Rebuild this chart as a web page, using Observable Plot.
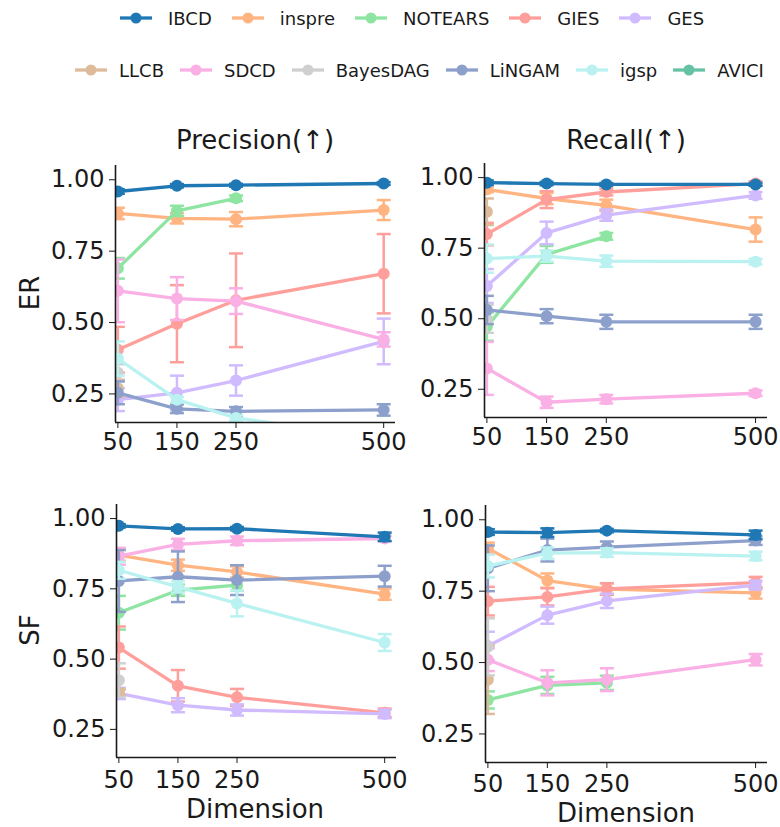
<!DOCTYPE html>
<html><head><meta charset="utf-8">
<script src="https://cdn.jsdelivr.net/npm/d3@7"></script>
<script src="https://cdn.jsdelivr.net/npm/@observablehq/plot@0.6"></script>
<style>
body{margin:0;background:#fff;font-family:"DejaVu Sans",sans-serif;}
#root{position:relative;width:780px;height:827px;overflow:hidden;background:#fff;}
.abs{position:absolute;white-space:nowrap;color:#1a1a1a;line-height:20px;}
.panel{position:absolute;}
.legrow{position:absolute;display:flex;align-items:center;font-size:18px;color:#1a1a1a;height:24px;}
.item{display:flex;align-items:center;}
</style></head><body><div id="root"></div>
<script>
// ---------- data ----------
const dims = [50, 150, 250, 500];
const methods = ["IBCD","inspre","NOTEARS","GIES","GES","LLCB","SDCD","BayesDAG","LiNGAM","igsp","AVICI"];
const colors = ["#1f77b4","#ffb482","#8de5a1","#ff9f9b","#d0bbff","#debb9b","#fab0e4","#cfcfcf","#8da0cb","#b9f2f0","#66c2a5"];
const yTicks = [0.25, 0.5, 0.75, 1.0];
const N = null;

// ER - Precision (mean per dim, error half-width per dim), rows follow `methods`
const erPrecMean = [
  [0.959,0.979,0.981,0.987],[0.882,0.865,0.862,0.894],[0.690,0.891,0.935,N],[0.405,0.496,0.578,0.671],
  [0.230,0.254,0.297,0.434],[0.270,N,N,N],[0.611,0.584,0.575,0.441],[0.324,N,N,N],
  [0.254,0.198,0.189,0.194],[0.374,0.230,0.166,0.094],[N,N,N,N]];
const erPrecErr = [
  [0.008,0.006,0.005,0.005],[0.02,0.018,0.025,0.035],[0.036,0.018,0.01,N],[0.08,0.135,0.164,0.139],
  [0.04,0.06,0.053,0.08],[0.03,N,N,N],[0.11,0.075,0.045,0.025],[0.03,N,N,N],
  [0.04,0.015,0.015,0.02],[0.06,0.01,0.01,0.01],[N,N,N,N]];
// ER - Recall
const erRecMean = [
  [0.982,0.979,0.976,0.976],[0.958,0.926,0.902,0.816],[0.472,0.728,0.792,N],[0.800,0.922,0.949,0.979],
  [0.616,0.804,0.867,0.937],[0.879,N,N,N],[0.324,0.204,0.215,0.236],[0.500,N,N,N],
  [0.531,0.509,0.489,0.489],[0.713,0.722,0.704,0.702],[N,N,N,N]];
const erRecErr = [
  [0.008,0.006,0.005,0.005],[0.01,0.02,0.02,0.043],[0.05,0.03,0.012,N],[0.04,0.03,0.012,0.008],
  [0.06,0.04,0.02,0.012],[0.047,N,N,N],[0.094,0.02,0.015,0.01],[0.05,N,N,N],
  [0.05,0.025,0.025,0.025],[0.05,0.02,0.02,0.01],[N,N,N,N]];
// SF - Precision
const sfPrecMean = [
  [0.974,0.963,0.964,0.935],[0.870,0.834,0.810,0.731],[0.665,0.745,0.763,N],[0.541,0.405,0.364,0.309],
  [0.378,0.336,0.319,0.305],[0.382,N,N,N],[0.866,0.908,0.921,0.929],[0.425,N,N,N],
  [0.778,0.793,0.781,0.795],[0.816,0.757,0.698,0.559],[N,N,N,N]];
const sfPrecErr = [
  [0.006,0.006,0.006,0.015],[0.02,0.02,0.02,0.02],[0.06,0.02,0.02,N],[0.075,0.056,0.03,0.015],
  [0.02,0.025,0.02,0.015],[0.01,N,N,N],[0.03,0.02,0.015,0.01],[0.06,N,N,N],
  [0.11,0.09,0.053,0.037],[0.03,0.02,0.046,0.03],[N,N,N,N]];
// SF - Recall
const sfRecMean = [
  [0.957,0.955,0.962,0.947],[0.900,0.787,0.757,0.744],[0.369,0.420,0.429,N],[0.715,0.730,0.758,0.780],
  [0.558,0.666,0.716,0.771],[0.440,N,N,N],[0.510,0.429,0.440,0.510],[0.555,N,N,N],
  [0.830,0.894,0.904,0.927],[0.838,0.883,0.885,0.873],[N,N,N,N]];
const sfRecErr = [
  [0.01,0.015,0.006,0.015],[0.02,0.025,0.02,0.02],[0.03,0.03,0.025,N],[0.05,0.03,0.02,0.02],
  [0.05,0.03,0.025,0.015],[0.12,N,N,N],[0.04,0.044,0.04,0.02],[0.1,N,N,N],
  [0.08,0.04,0.02,0.015],[0.04,0.02,0.015,0.015],[N,N,N,N]];

const xDomain = [46, 520];
const yDomain = [0.15, 1.05];

// ---------- build ----------
function rowsOf(means, errs) {
  const out = [];
  methods.forEach((m, i) => dims.forEach((d, j) => {
    const v = means[i][j];
    if (v == null) return;
    const e = errs[i][j] || 0;
    out.push({method: m, dim: d, mean: v, lo: v - e, hi: v + e});
  }));
  return out;
}

const cap = {draw(ctx, size) { const w = Math.sqrt(size / Math.PI); ctx.moveTo(-w, 0); ctx.lineTo(w, 0); }};
const drawOrder = methods.slice(1).concat(["IBCD"]);
const ink = "#1a1a1a";

function panel(rows, o) {
  const marks = [];
  for (const m of drawOrder) {
    const c = colors[methods.indexOf(m)];
    const d = rows.filter(r => r.method === m);
    if (!d.length) continue;
    marks.push(
      Plot.ruleX(d, {x: "dim", y1: "lo", y2: "hi", stroke: c, strokeWidth: 2.5, clip: true}),
      Plot.dot(d, {x: "dim", y: "lo", symbol: cap, r: 7, stroke: c, fill: "none", strokeWidth: 2.5, clip: true}),
      Plot.dot(d, {x: "dim", y: "hi", symbol: cap, r: 7, stroke: c, fill: "none", strokeWidth: 2.5, clip: true}),
      Plot.line(d, {x: "dim", y: "mean", stroke: c, strokeWidth: 3.3, clip: true}),
      Plot.dot(d, {x: "dim", y: "mean", r: 6, fill: c, stroke: "none", clip: true})
    );
  }
  marks.push(
    Plot.ruleX([xDomain[0]], {stroke: ink, strokeWidth: 1.6}),
    Plot.ruleY([yDomain[0]], {stroke: ink, strokeWidth: 1.6})
  );
  const svg = Plot.plot({
    width: o.w, height: o.h,
    marginLeft: o.ml, marginRight: o.mr, marginTop: o.mt, marginBottom: o.mb,
    x: {domain: xDomain, ticks: dims, tickFormat: d => String(d), label: null, tickSize: 6, tickPadding: o.xpad},
    y: {domain: yDomain, ticks: yTicks, tickFormat: d3.format(".2f"), label: null, tickSize: 6, tickPadding: 5},
    style: {fontSize: "24px", fontFamily: "DejaVu Sans", color: ink, background: "transparent", overflow: "visible"},
    marks
  });
  svg.classList.add("panel");
  svg.style.left = o.left + "px";
  svg.style.top = o.top + "px";
  return svg;
}

const root = document.getElementById("root");
root.appendChild(panel(rowsOf(erPrecMean, erPrecErr), {left: 0, top: 140, w: 400, h: 330, ml: 115, mr: 5, mt: 25, mb: 48, xpad: 4}));
root.appendChild(panel(rowsOf(erRecMean, erRecErr), {left: 390, top: 140, w: 390, h: 330, ml: 94, mr: 13, mt: 23, mb: 53, xpad: 4}));
root.appendChild(panel(rowsOf(sfPrecMean, sfPrecErr), {left: 0, top: 480, w: 400, h: 320, ml: 116, mr: 4, mt: 24, mb: 43, xpad: 7}));
root.appendChild(panel(rowsOf(sfRecMean, sfRecErr), {left: 390, top: 480, w: 390, h: 320, ml: 95, mr: 13, mt: 25, mb: 38, xpad: 6}));

// ---------- text ----------
function label(text, x, y, size, rotate) {
  const el = document.createElement("div");
  el.className = "abs";
  el.textContent = text;
  el.style.fontSize = size + "px";
  el.style.left = x + "px";
  el.style.top = (y - 10) + "px";
  el.style.transform = "translateX(-50%)" + (rotate ? " rotate(-90deg)" : "");
  el.style.transformOrigin = "50% 50%";
  root.appendChild(el);
}
label("Precision(↑)", 255, 140, 26);
label("Recall(↑)", 626, 140, 26);
label("Dimension", 255, 809, 26);
label("Dimension", 626, 813, 26);
label("ER", 30, 293, 26, true);
label("SF", 30, 630, 26, true);

// ---------- legend ----------
const legendRows = [methods.slice(0, 5), methods.slice(5)];
const legendPos = [{left: 120, cy: 18, iconGap: 16, itemGap: 20}, {left: 75, cy: 70, iconGap: 12, itemGap: 16}];
legendRows.forEach((names, k) => {
  const p = legendPos[k];
  const row = document.createElement("div");
  row.className = "legrow";
  row.style.left = p.left + "px";
  row.style.top = (p.cy - 12) + "px";
  names.forEach((n, i) => {
    const c = colors[methods.indexOf(n)];
    const it = document.createElement("div");
    it.className = "item";
    if (i < names.length - 1) it.style.marginRight = p.itemGap + "px";
    it.innerHTML = `<svg width="32" height="14" style="margin-right:${p.iconGap}px"><line x1="0" y1="7" x2="32" y2="7" stroke="${c}" stroke-width="3.3"/><circle cx="16" cy="7" r="5.5" fill="${c}"/></svg><span>${n}</span>`;
    row.appendChild(it);
  });
  root.appendChild(row);
});
</script></body></html>
